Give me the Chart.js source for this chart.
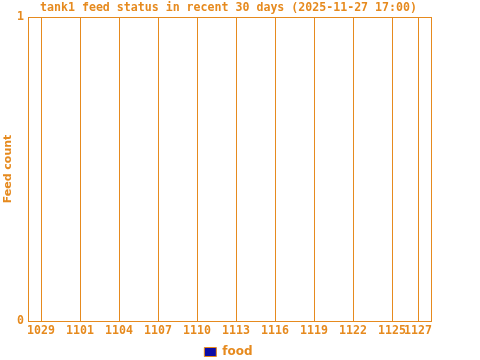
<!DOCTYPE html>
<html>
<head>
<meta charset="utf-8">
<script src="https://cdn.jsdelivr.net/npm/chart.js@4/dist/chart.umd.min.js"></script>
<style>
html,body{margin:0;padding:0;background:#fff;}
#wrap{width:480px;height:360px;}
</style>
</head>
<body>
<div id="wrap"><canvas id="c" width="480" height="360"></canvas></div>
<script>
const titleText = 'tank1 feed status in recent 30 days (2025-11-27 17:00)';
const days = ['1028','1029','1030','1031','1101','1102','1103','1104','1105','1106','1107','1108','1109','1110','1111','1112','1113','1114','1115','1116','1117','1118','1119','1120','1121','1122','1123','1124','1125','1126','1127','1128'];
const tickLabels = ['1029','1101','1104','1107','1110','1113','1116','1119','1122','1125','1127'];
const foodCounts = [0,0,0,0,0,0,0,0,0,0,0,0,0,0,0,0,0,0,0,0,0,0,0,0,0,0,0,0,0,0,0,0];
const yTicks = [0, 1];

const ORANGE = '#e68a1e';
const BLUE = '#0c0ca6';
const MONO = "'DejaVu Sans Mono', monospace";
const SANS = "'DejaVu Sans', sans-serif";

const points = foodCounts.map((v, i) => ({x: i, y: v}));
const tickPositions = tickLabels.map(l => days.indexOf(l)).concat([days.length - 1]);

new Chart(document.getElementById('c'), {
  type: 'bar',
  data: {
    datasets: [{
      label: 'food',
      data: points,
      backgroundColor: BLUE,
      borderColor: ORANGE,
      borderWidth: 1,
      barThickness: 8
    }]
  },
  options: {
    responsive: false,
    animation: false,
    devicePixelRatio: 1,
    layout: {padding: {left: 0, right: 23, top: 0, bottom: -8}},
    plugins: {
      title: {
        display: true,
        text: titleText,
        color: ORANGE,
        font: {family: MONO, size: 11.6, weight: 'bold', lineHeight: 1.2},
        padding: {top: 1.5, bottom: 1.6},
        align: 'center'
      },
      legend: {
        display: true,
        position: 'bottom',
        labels: {
          color: ORANGE,
          font: {family: SANS, size: 12, weight: 'bold'},
          boxWidth: 12,
          boxHeight: 9,
          padding: 4
        }
      },
      tooltip: {enabled: false}
    },
    scales: {
      x: {
        type: 'linear',
        min: 0,
        max: days.length - 1,
        offset: false,
        afterBuildTicks: s => { s.ticks = tickPositions.map(v => ({value: v})); },
        afterFit: s => { s.height = 21; },
        ticks: {
          color: ORANGE,
          font: {family: MONO, size: 11.6, weight: 'bold'},
          padding: 3,
          maxRotation: 0,
          autoSkip: false,
          callback: (v) => tickLabels.includes(days[v]) ? days[v] : ''
        },
        grid: {color: ORANGE, lineWidth: 1, drawTicks: false, offset: false},
        border: {color: ORANGE, width: 1}
      },
      y: {
        type: 'linear',
        position: 'left',
        min: 0,
        max: 1,
        afterBuildTicks: s => { s.ticks = yTicks.map(v => ({value: v})); },
        afterFit: s => { s.width = 28; },
        ticks: {
          color: ORANGE,
          font: {family: MONO, size: 11.6, weight: 'bold'},
          padding: 4,
          callback: v => String(v)
        },
        title: {
          display: true,
          text: 'Feed count',
          color: ORANGE,
          font: {family: SANS, size: 11, weight: 'bold'},
          padding: {top: 2, bottom: 0}
        },
        grid: {color: ORANGE, lineWidth: 1, drawTicks: false},
        border: {color: ORANGE, width: 1}
      },
      yRight: {
        type: 'linear',
        position: 'right',
        min: 0,
        max: 1,
        afterFit: s => { s.width = 26; },
        ticks: {display: false},
        grid: {display: false},
        border: {display: false}
      }
    }
  }
});
</script>
</body>
</html>
